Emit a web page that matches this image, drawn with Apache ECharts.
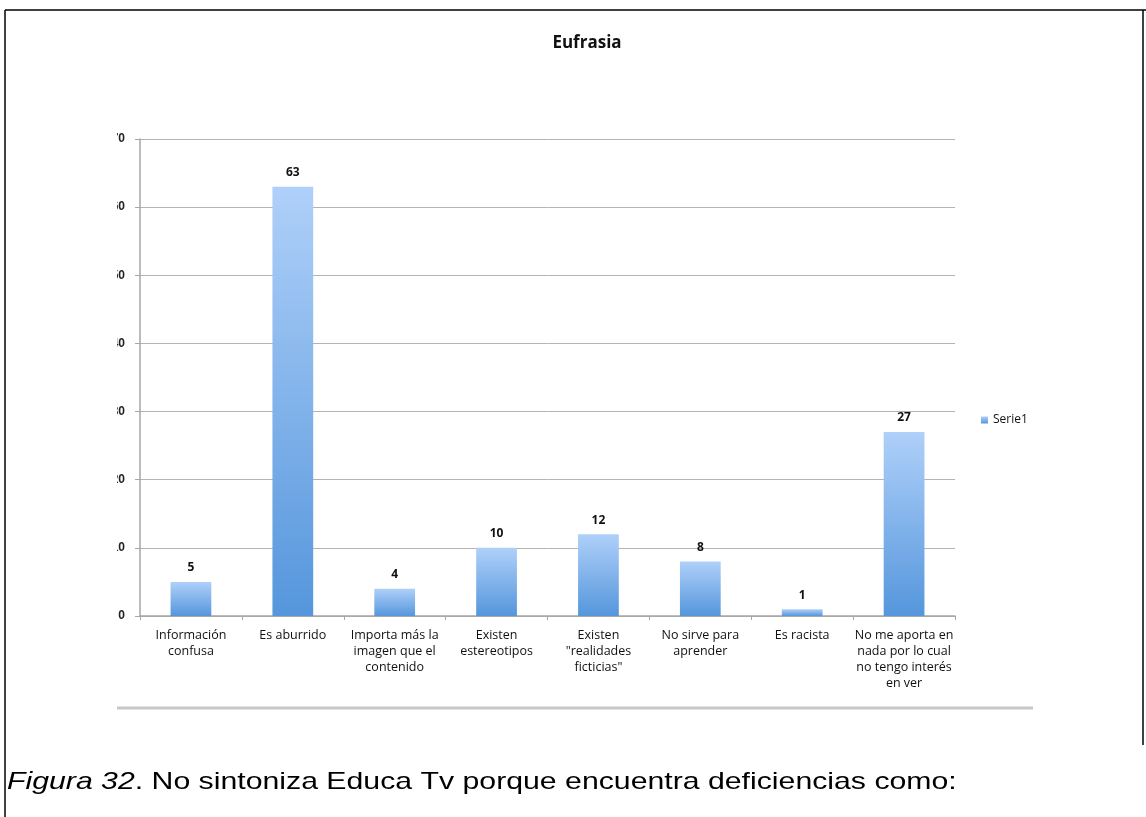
<!DOCTYPE html>
<html><head><meta charset="utf-8">
<script src="https://cdn.jsdelivr.net/npm/echarts@6/dist/echarts.min.js"></script>
<style>html,body{margin:0;padding:0;background:#fff}#c{width:1146px;height:817px}</style>
</head><body><div id="c"></div>
<script>
const categories = ['Información\nconfusa','Es aburrido','Importa más la\nimagen que el\ncontenido','Existen\nestereotipos','Existen\n"realidades\nficticias"','No sirve para\naprender','Es racista','No me aporta en\nnada por lo cual\nno tengo interés\nen ver'];
const serie1 = [5, 63, 4, 10, 12, 8, 1, 27];
const seriesName = 'Serie1';
const titleText = 'Eufrasia';
const captionItalic = 'Figura 32';
const captionRest = '. No sintoniza Educa Tv porque encuentra deficiencias como:';

const chart = echarts.init(document.getElementById('c'));
chart.setOption({
  animation: false,
  backgroundColor: '#fff',
  title: { text: titleText, left: 582, textAlign: 'center', top: 30,
    textStyle: { fontFamily: 'Open Sans, Liberation Sans, sans-serif', fontWeight: 'bold', fontSize: 17, color: '#111' } },
  legend: { data: [seriesName], orient: 'vertical', left: 976, top: 409, itemWidth: 7, itemHeight: 7, itemGap: 4,
    icon: 'rect', textStyle: { fontFamily: 'Open Sans, Liberation Sans, sans-serif', fontSize: 12, color: '#111' } },
  grid: { left: 140, right: 191, top: 139, bottom: 201 },
  xAxis: { type: 'category', data: categories,
    axisLine: { lineStyle: { color: '#a6a6a6', width: 1.5 } },
    axisTick: { show: true, length: 4, lineStyle: { color: '#a6a6a6' } },
    axisLabel: { interval: 0, margin: 11, lineHeight: 16, fontSize: 12.5, color: '#111',
      fontFamily: 'Open Sans, Liberation Sans, sans-serif' } },
  yAxis: { type: 'value', min: 0, max: 70, interval: 10,
    axisLine: { show: true, lineStyle: { color: '#a6a6a6', width: 1.5 } },
    axisTick: { show: true, length: 5, lineStyle: { color: '#a6a6a6' } },
    splitLine: { lineStyle: { color: '#b4b4b4', width: 1 } },
    axisLabel: { margin: 15, fontSize: 12, fontWeight: 'bold', color: '#222', fontFamily: 'Liberation Sans, sans-serif' } },
  series: [{ name: seriesName, type: 'bar', data: serie1, barWidth: '40%',
    itemStyle: { color: new echarts.graphic.LinearGradient(0,0,0,1,[{offset:0,color:'#afd0f9'},{offset:1,color:'#5596dc'}]) },
    label: { show: true, position: 'top', distance: 8, fontSize: 12, fontWeight: 'bold', color: '#111',
      fontFamily: 'Open Sans, Liberation Sans, sans-serif' } }],
  graphic: [
    { type: 'rect', left: 95, top: 120, shape: { width: 22, height: 510 }, style: { fill: '#fff' }, z: 100 },
    { type: 'line', shape: { x1: 5, y1: 10, x2: 1146, y2: 10 }, style: { stroke: '#000', lineWidth: 1.5 }, z: 100 },
    { type: 'line', shape: { x1: 5, y1: 10, x2: 5, y2: 817 }, style: { stroke: '#000', lineWidth: 1.5 }, z: 100 },
    { type: 'line', shape: { x1: 1143, y1: 10, x2: 1143, y2: 745 }, style: { stroke: '#000', lineWidth: 1.5 }, z: 100 },
    { type: 'line', shape: { x1: 117, y1: 708, x2: 1033, y2: 708 }, style: { stroke: '#c8c8c8', lineWidth: 3 }, z: 100 },
    { type: 'text', x: 7, y: 770, scaleX: 1.26, z: 100, style: { x: 0, y: 0, verticalAlign: 'top',
      text: '{i|' + captionItalic + '}{r|' + captionRest + '}',
      rich: { i: { fontStyle: 'italic', fontSize: 24, fontFamily: 'Liberation Sans, Arial, sans-serif', fill: '#000' },
              r: { fontSize: 24, fontFamily: 'Liberation Sans, Arial, sans-serif', fill: '#000' } } } }
  ]
});
</script></body></html>
